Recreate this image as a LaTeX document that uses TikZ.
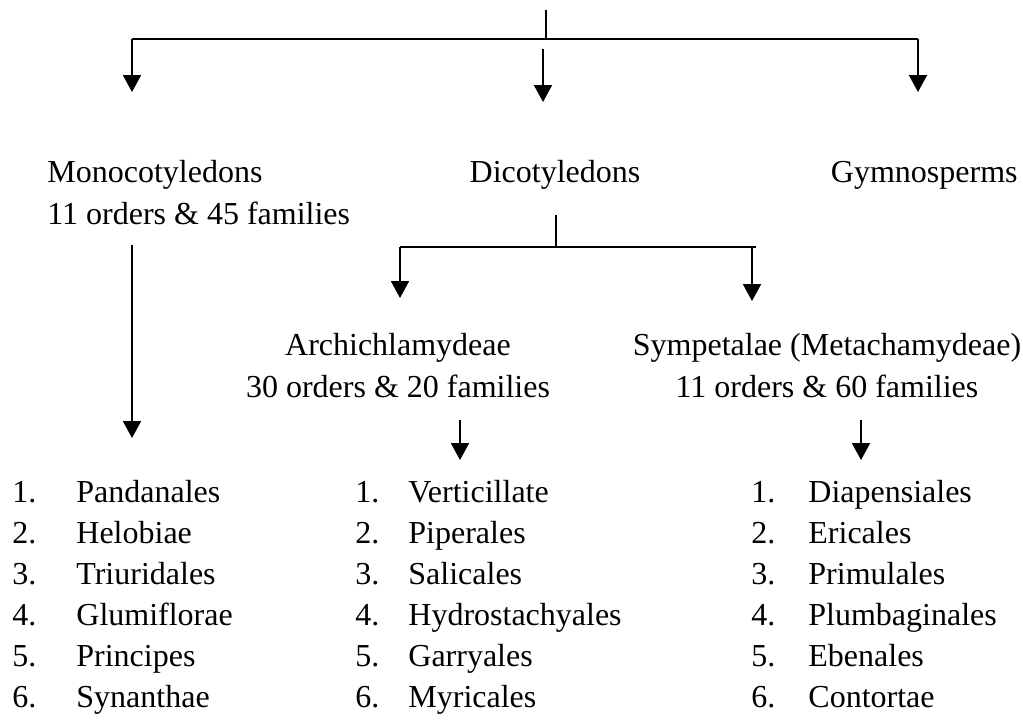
\documentclass[tikz,border=0pt]{standalone}
\usepackage{fontspec}
\setmainfont{Liberation Serif}
\usetikzlibrary{arrows.meta,positioning}
\tikzstyle{label} = [inner sep=0pt, font=\fontsize{16}{19}\selectfont]
\tikzstyle{branch} = [line width=1pt]
\tikzstyle{down} = [line width=1pt, -{Triangle[width=9pt,length=8.5pt]}]

\begin{document}
\begin{tikzpicture}[x=0.5pt,y=-0.5pt]
    \useasboundingbox (0,0) rectangle (1023,719);

    % groups
    \node [label, anchor=base west] (mono) at (47,182) {Monocotyledons};
    \node [label, anchor=base west] (monofam) at (47,224) {11 orders \& 45 families};
    \node [label, anchor=base] (dico) at (555,182) {Dicotyledons};
    \node [label, anchor=base east] (gymno) at (1018,182) {Gymnosperms};
    \node [label, anchor=base] (archi) at (398,355) {Archichlamydeae};
    \node [label, anchor=base] (archifam) at (398,397) {30 orders \& 20 families};
    \node [label, anchor=base] (sympet) at (827,355) {Sympetalae (Metachamydeae)};
    \node [label, anchor=base] (sympetfam) at (827,397) {11 orders \& 60 families};

    % branch points
    \coordinate (root) at (546,10);
    \coordinate (rootfork) at (546,39);
    \coordinate (monotop) at (132,39);
    \coordinate (gymnotop) at (918,39);
    \coordinate (dicostart) at (543,49);
    \coordinate (monotip) at (132,92);
    \coordinate (dicotip) at (543,102);
    \coordinate (gymnotip) at (918,92);
    \coordinate (dicoroot) at (556,215);
    \coordinate (dicofork) at (556,247);
    \coordinate (architop) at (400,247);
    \coordinate (sympettop) at (752,247);
    \coordinate (architip) at (400,298);
    \coordinate (sympettip) at (752,301);
    \coordinate (monolist) at (132,245);
    \coordinate (monolisttip) at (132,438);
    \coordinate (archilist) at (460,420);
    \coordinate (archilisttip) at (460,460);
    \coordinate (sympetlist) at (861,420);
    \coordinate (sympetlisttip) at (861,460);

    \draw[branch] (root) -- (rootfork);
    \draw[branch] (monotop) -- (gymnotop);
    \draw[down] (monotop) -- (monotip);
    \draw[down] (dicostart) -- (dicotip);
    \draw[down] (gymnotop) -- (gymnotip);
    \draw[branch] (dicoroot) -- (dicofork);
    \draw[branch] (architop) -- (756,247);
    \draw[down] (architop) -- (architip);
    \draw[down] (sympettop) -- (sympettip);
    \draw[down] (monolist) -- (monolisttip);
    \draw[down] (archilist) -- (archilisttip);
    \draw[down] (sympetlist) -- (sympetlisttip);

    % orders
    \foreach \n/\a/\b/\c in {1/Pandanales/Verticillate/Diapensiales,
                             2/Helobiae/Piperales/Ericales,
                             3/Triuridales/Salicales/Primulales,
                             4/Glumiflorae/Hydrostachyales/Plumbaginales,
                             5/Principes/Garryales/Ebenales,
                             6/Synanthae/Myricales/Contortae} {
        \pgfmathsetmacro{\yy}{502+41*(\n-1)}
        \node [label, anchor=base west] (mononum\n) at (12,\yy) {\n.};
        \node [label, anchor=base west] (monoord\n) at (76,\yy) {\a};
        \node [label, anchor=base west] (archinum\n) at (355,\yy) {\n.};
        \node [label, anchor=base west] (archiord\n) at (408,\yy) {\b};
        \node [label, anchor=base west] (sympetnum\n) at (751,\yy) {\n.};
        \node [label, anchor=base west] (sympetord\n) at (808,\yy) {\c};
    }
\end{tikzpicture}
\end{document}
